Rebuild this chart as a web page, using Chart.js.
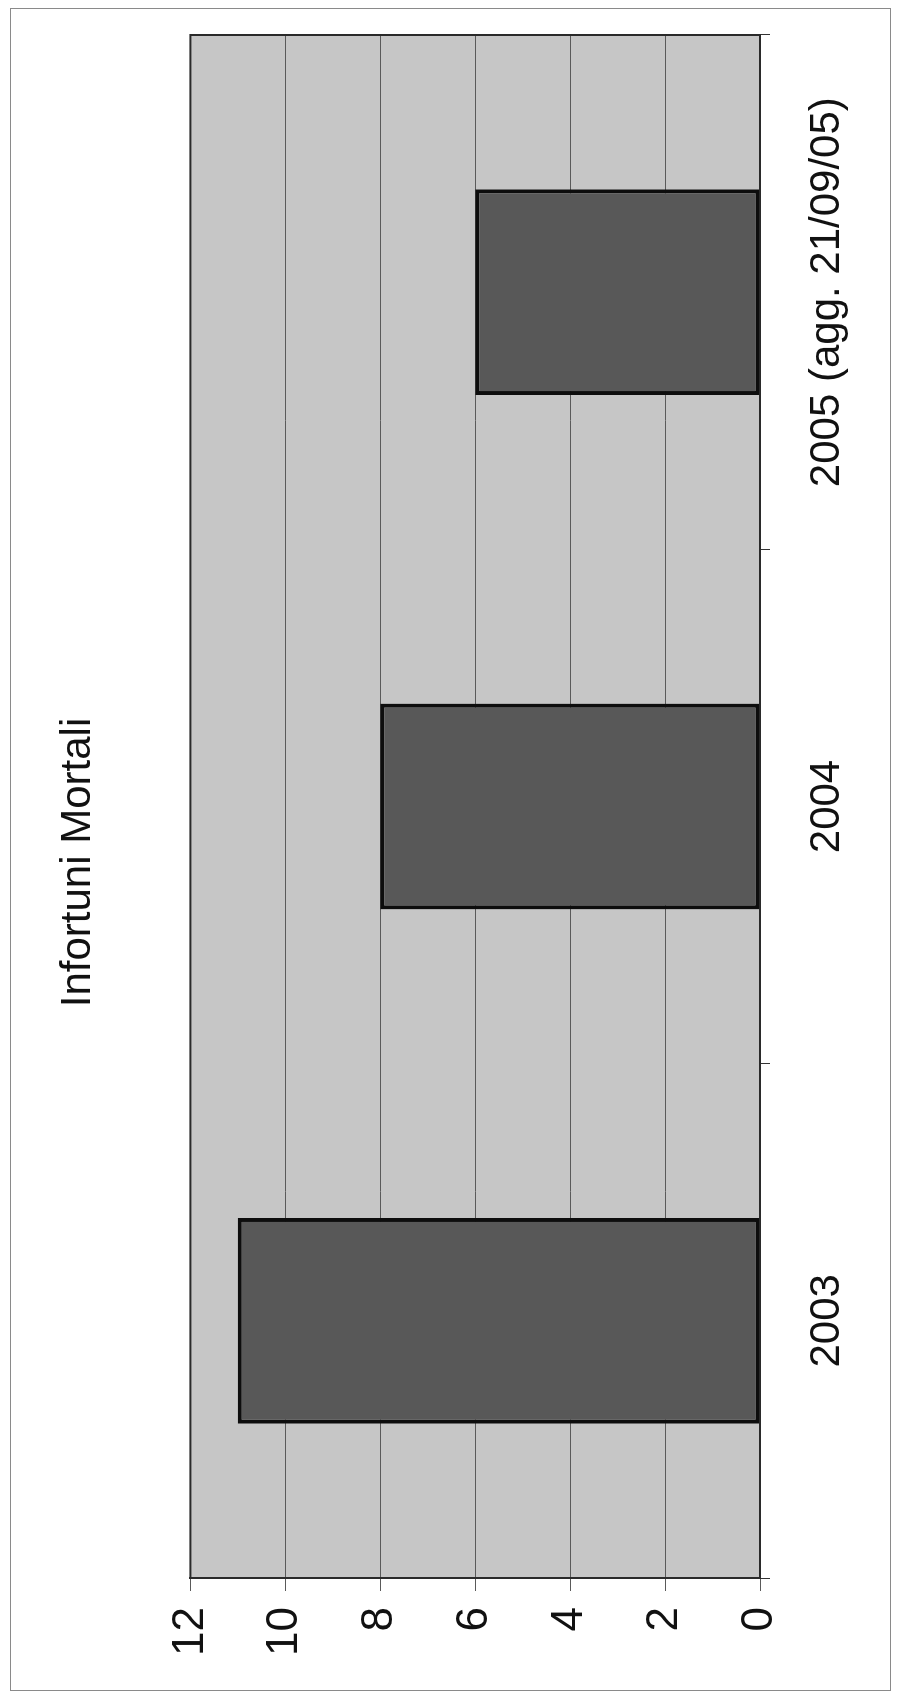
<!DOCTYPE html>
<html>
<head>
<meta charset="utf-8">
<title>Infortuni Mortali</title>
<script src="https://cdn.jsdelivr.net/npm/chart.js@4/dist/chart.umd.min.js"></script>
<style>
  html, body { margin: 0; padding: 0; background: #fff; }
  body { width: 897px; height: 1700px; position: relative; overflow: hidden; }
  #frame { position: absolute; left: 10px; top: 8px; width: 879px; height: 1681px; border: 1px solid #8a8a8a; }
  /* the chart is printed sideways: draw it landscape, then turn it */
  #wrap { position: absolute; left: 0; top: 0; width: 1700px; height: 897px;
          transform-origin: 0 0; transform: translateY(1700px) rotate(-90deg); }
</style>
</head>
<body>
<div id="frame"></div>
<div id="wrap"><canvas id="chart" width="1700" height="897"></canvas></div>
<script>
// Infortuni Mortali — fatal accidents per year

var categories = ['2003', '2004', '2005 (agg. 21/09/05)'];
var deaths = [11, 8, 6];
var yMin = 0, yMax = 12, yStep = 2;

var FONT = '"Liberation Sans", Arial, sans-serif';

// grey plot background + border around the plot area
var plotBg = {
  id: 'plotBg',
  beforeDraw: function (chart) {
    var a = chart.chartArea, ctx = chart.ctx;
    ctx.save();
    ctx.fillStyle = '#c6c6c6';
    ctx.fillRect(a.left, a.top, a.right - a.left, a.bottom - a.top);
    ctx.restore();
  },
  afterDatasetsDraw: function (chart) {
    var a = chart.chartArea, ctx = chart.ctx;
    ctx.save();
    ctx.strokeStyle = '#2a2a2a';
    ctx.lineWidth = 2;
    ctx.strokeRect(a.left, a.top, a.right - a.left, a.bottom - a.top);
    ctx.restore();
  }
};

var ctx = document.getElementById('chart').getContext('2d');
var chart = new Chart(ctx, {
  type: 'bar',
  data: {
    labels: categories,
    datasets: [{
      label: 'Infortuni Mortali',
      data: deaths,
      backgroundColor: '#585858',
      borderColor: '#0d0d0d',
      borderWidth: 4,
      borderSkipped: false,
      categoryPercentage: 1,
      barPercentage: 0.4
    }]
  },
  options: {
    responsive: false,
    animation: false,
    devicePixelRatio: 1,
    layout: { padding: { left: 10, right: 35, top: 12, bottom: 0 } },
    plugins: {
      legend: { display: false },
      tooltip: { enabled: false },
      title: {
        display: true,
        text: 'Infortuni Mortali',
        color: '#111',
        font: { family: FONT, size: 42, weight: 'normal', lineHeight: 1.2 },
        padding: { top: 41, bottom: 87 }
      }
    },
    scales: {
      x: {
        offset: true,
        grid: { offset: true, drawOnChartArea: false, drawTicks: true, tickLength: 10, color: '#333', lineWidth: 1 },
        border: { display: true, color: '#2a2a2a', width: 2 },
        ticks: { color: '#111', padding: 32, maxRotation: 0, font: { family: FONT, size: 42, lineHeight: 1.2 } },
        afterFit: function (s) { s.height = 137; }
      },
      y: {
        min: yMin, max: yMax,
        grid: { color: '#5a5a5a', lineWidth: 1, tickLength: 13, drawTicks: true },
        border: { display: true, color: '#2a2a2a', width: 2 },
        ticks: { stepSize: yStep, color: '#111', padding: 16, font: { family: FONT, size: 44 } },
        afterFit: function (s) { s.width = 112; }
      }
    }
  },
  plugins: [plotBg]
});
</script>
</body>
</html>
